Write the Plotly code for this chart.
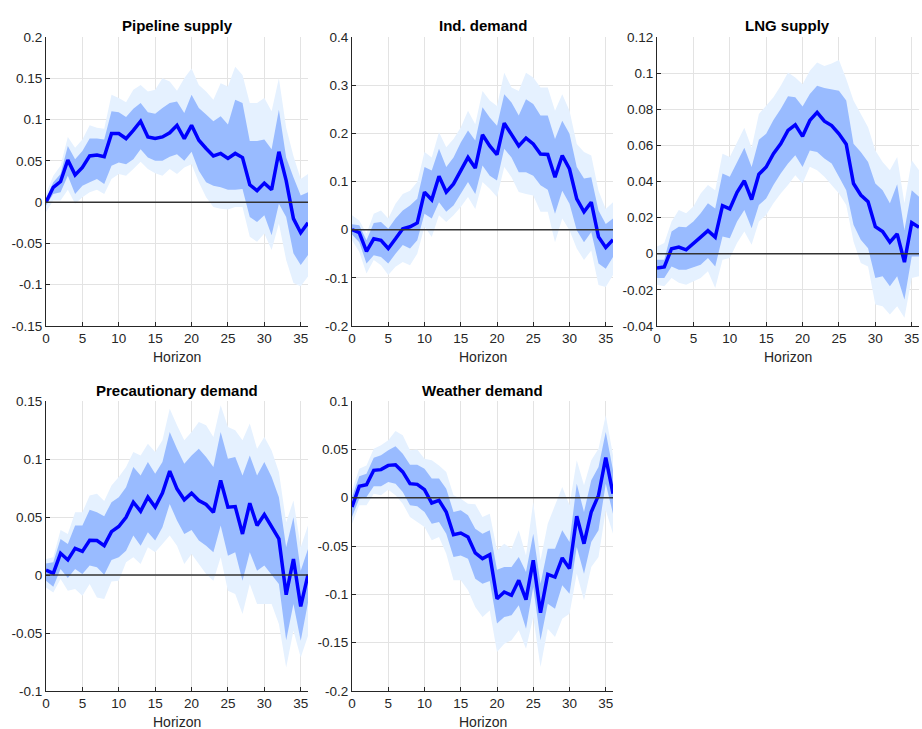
import plotly.graph_objects as go

horizon = list(range(37))

titles = ["Pipeline supply", "Ind. demand", "LNG supply", "Precautionary demand", "Weather demand"]

# ---- Pipeline supply ----
pipe_med = [0.0, 0.018, 0.025, 0.051, 0.033, 0.042, 0.056, 0.057, 0.055, 0.083, 0.083, 0.077, 0.087, 0.098,
            0.079, 0.077, 0.079, 0.084, 0.093, 0.077, 0.093, 0.075, 0.065, 0.056, 0.059, 0.053, 0.059, 0.054,
            0.021, 0.014, 0.023, 0.015, 0.061, 0.026, -0.020, -0.037, -0.025]
pipe_in_hi = [0.004, 0.024, 0.034, 0.068, 0.052, 0.062, 0.077, 0.077, 0.076, 0.110, 0.109, 0.103, 0.113, 0.120,
              0.109, 0.107, 0.114, 0.120, 0.122, 0.108, 0.130, 0.114, 0.106, 0.098, 0.104, 0.094, 0.124, 0.120,
              0.074, 0.074, 0.076, 0.064, 0.112, 0.054, 0.030, 0.008, 0.012]
pipe_in_lo = [-0.004, 0.010, 0.012, 0.032, 0.010, 0.020, 0.024, 0.028, 0.022, 0.044, 0.048, 0.046, 0.052, 0.064,
              0.054, 0.050, 0.050, 0.055, 0.058, 0.050, 0.061, 0.038, 0.024, 0.020, 0.018, 0.015, 0.015, 0.016,
              -0.018, -0.024, -0.016, -0.040, -0.002, -0.018, -0.062, -0.076, -0.064]
pipe_out_hi = [0.010, 0.032, 0.044, 0.079, 0.066, 0.076, 0.093, 0.090, 0.089, 0.130, 0.126, 0.121, 0.136, 0.142,
               0.134, 0.136, 0.150, 0.146, 0.135, 0.150, 0.162, 0.142, 0.134, 0.124, 0.144, 0.140, 0.164, 0.154,
               0.120, 0.120, 0.126, 0.110, 0.150, 0.090, 0.056, 0.028, 0.034]
pipe_out_lo = [-0.012, 0.002, 0.002, 0.015, -0.002, 0.006, 0.012, 0.015, 0.010, 0.028, 0.034, 0.032, 0.040, 0.049,
               0.040, 0.035, 0.032, 0.040, 0.034, 0.042, 0.046, 0.024, 0.006, -0.006, -0.008, -0.009, -0.006, -0.006,
               -0.042, -0.048, -0.038, -0.058, -0.026, -0.070, -0.098, -0.102, -0.090]

# ---- Ind. demand ----
ind_med = [0.0, -0.006, -0.045, -0.019, -0.022, -0.039, -0.019, 0.002, 0.006, 0.014, 0.078, 0.062, 0.111, 0.078,
           0.095, 0.123, 0.150, 0.128, 0.197, 0.174, 0.156, 0.221, 0.199, 0.174, 0.190, 0.178, 0.157, 0.156,
           0.109, 0.154, 0.126, 0.064, 0.037, 0.057, -0.015, -0.037, -0.021]
ind_in_hi = [0.011, 0.009, -0.022, 0.014, 0.016, 0.002, 0.023, 0.040, 0.050, 0.064, 0.130, 0.123, 0.168, 0.130,
             0.150, 0.181, 0.206, 0.185, 0.254, 0.233, 0.216, 0.281, 0.264, 0.237, 0.271, 0.261, 0.237, 0.237,
             0.188, 0.226, 0.199, 0.130, 0.106, 0.109, 0.040, 0.012, 0.023]
ind_in_lo = [-0.010, -0.026, -0.070, -0.053, -0.057, -0.070, -0.050, -0.032, -0.039, -0.022, 0.033, 0.023, 0.057,
             0.037, 0.050, 0.074, 0.099, 0.074, 0.133, 0.112, 0.102, 0.168, 0.150, 0.119, 0.119, 0.112, 0.092,
             0.083, 0.033, 0.081, 0.054, -0.001, -0.026, -0.005, -0.070, -0.081, -0.057]
ind_out_hi = [0.030, 0.019, -0.008, 0.033, 0.040, 0.023, 0.054, 0.074, 0.081, 0.099, 0.161, 0.150, 0.202, 0.171,
              0.188, 0.212, 0.247, 0.219, 0.288, 0.268, 0.257, 0.326, 0.295, 0.288, 0.326, 0.316, 0.295, 0.295,
              0.247, 0.281, 0.247, 0.178, 0.161, 0.154, 0.081, 0.043, 0.057]
ind_out_lo = [-0.022, -0.046, -0.091, -0.063, -0.074, -0.094, -0.077, -0.067, -0.074, -0.050, 0.006, -0.015, 0.030,
              0.016, 0.030, 0.047, 0.068, 0.043, 0.099, 0.085, 0.068, 0.130, 0.109, 0.078, 0.074, 0.071, 0.037,
              0.037, -0.026, 0.023, -0.001, -0.039, -0.063, -0.043, -0.115, -0.119, -0.094]

# ---- LNG supply ----
lng_med = [-0.0079, -0.0073, 0.0028, 0.0037, 0.0022, 0.0055, 0.0092, 0.0128, 0.0092, 0.0266, 0.0248, 0.034, 0.0404,
           0.030, 0.044, 0.048, 0.0554, 0.0609, 0.0683, 0.0714, 0.065, 0.0738, 0.0783, 0.0734, 0.071, 0.0664,
           0.0606, 0.0389, 0.0325, 0.0288, 0.015, 0.0123, 0.0064, 0.011, -0.0046, 0.0172, 0.0147]
lng_in_hi = [-0.0033, -0.0033, 0.0123, 0.015, 0.0147, 0.0178, 0.0224, 0.0279, 0.0251, 0.0444, 0.0426, 0.0508, 0.0587,
             0.048, 0.0631, 0.0664, 0.0741, 0.0802, 0.0872, 0.0866, 0.0815, 0.0884, 0.093, 0.0917, 0.0912, 0.0903,
             0.0848, 0.0609, 0.0563, 0.0508, 0.0389, 0.0352, 0.0279, 0.0385, 0.0132, 0.0352, 0.0316]
lng_in_lo = [-0.0134, -0.0134, -0.007, -0.0088, -0.0088, -0.0073, -0.0061, -0.0024, -0.007, 0.0095, 0.0086, 0.0178,
             0.0242, 0.0141, 0.027, 0.0306, 0.038, 0.0444, 0.0499, 0.0545, 0.048, 0.0572, 0.0563, 0.0527, 0.0499,
             0.0426, 0.0352, 0.016, 0.0077, 0.0031, -0.0134, -0.0125, -0.018, -0.0125, -0.0253, -0.0015, -0.0015]
lng_out_hi = [0.004, 0.0059, 0.0178, 0.0242, 0.0224, 0.0261, 0.0334, 0.038, 0.0352, 0.0554, 0.0536, 0.0618, 0.0697,
              0.0587, 0.0774, 0.082, 0.0866, 0.093, 0.1004, 0.0976, 0.0939, 0.1013, 0.1059, 0.104, 0.1053, 0.1072,
              0.0967, 0.0848, 0.0774, 0.0701, 0.0572, 0.0508, 0.0462, 0.0536, 0.0279, 0.0517, 0.0462]
lng_out_lo = [-0.0171, -0.018, -0.0134, -0.0161, -0.0171, -0.0152, -0.0134, -0.0097, -0.0189, -0.0033, -0.0024,
              0.0059, 0.0123, 0.005, 0.0178, 0.0215, 0.0279, 0.0334, 0.038, 0.0435, 0.0389, 0.0481, 0.0462, 0.0426,
              0.038, 0.0334, 0.027, 0.0068, -0.0051, -0.007, -0.0281, -0.029, -0.0336, -0.029, -0.0354, -0.0134,
              -0.0125]

# ---- Precautionary demand ----
prec_med = [0.0043, 0.0014, 0.0187, 0.013, 0.023, 0.0204, 0.030, 0.0297, 0.0253, 0.0374, 0.0418, 0.0498, 0.0628,
            0.055, 0.0671, 0.0585, 0.0706, 0.0896, 0.0743, 0.0648, 0.0706, 0.0642, 0.0608, 0.0541, 0.0815, 0.0585,
            0.059, 0.0354, 0.0619, 0.0426, 0.0521, 0.0412, 0.0311, -0.017, 0.0138, -0.0271, 0.0003]
prec_in_hi = [0.010, 0.011, 0.031, 0.0268, 0.0426, 0.0426, 0.0562, 0.0541, 0.0507, 0.0628, 0.0671, 0.0757, 0.093,
              0.0858, 0.0974, 0.0873, 0.0974, 0.1233, 0.1089, 0.0959, 0.1031, 0.1089, 0.1017, 0.093, 0.1233, 0.1002,
              0.1017, 0.0858, 0.1031, 0.0858, 0.0974, 0.0844, 0.0671, 0.0239, 0.0498, 0.0037, 0.0225]
prec_in_lo = [-0.0049, -0.0101, 0.0052, -0.0026, 0.0052, 0.0009, 0.0081, 0.0066, 0.0003, 0.013, 0.0153, 0.021, 0.034,
              0.0253, 0.0369, 0.0297, 0.0412, 0.0613, 0.0469, 0.0354, 0.0389, 0.0297, 0.0253, 0.0196, 0.0426, 0.0167,
              0.0196, -0.0049, 0.0196, 0.0037, 0.0081, 0.0003, -0.0078, -0.0562, -0.0251, -0.0567, -0.0236]
prec_out_hi = [0.0138, 0.0153, 0.0389, 0.0354, 0.0541, 0.0541, 0.0685, 0.070, 0.0637, 0.0772, 0.0844, 0.093, 0.106,
               0.1031, 0.1132, 0.106, 0.1161, 0.1434, 0.129, 0.1161, 0.1233, 0.1319, 0.129, 0.119, 0.1463, 0.1276,
               0.1247, 0.1161, 0.1305, 0.1089, 0.119, 0.1074, 0.0887, 0.0455, 0.0642, 0.0239, 0.0426]
prec_out_lo = [-0.0107, -0.015, -0.0035, -0.0135, -0.0121, -0.0179, -0.0078, -0.0193, -0.0207, -0.0055, -0.0049,
               0.011, 0.0153, 0.0095, 0.0239, 0.0196, 0.0268, 0.034, 0.0253, 0.0095, 0.0181, 0.0095, 0.0009, -0.0049,
               0.0153, -0.0135, -0.0164, -0.0337, -0.0078, -0.0251, -0.0251, -0.0251, -0.0423, -0.0798, -0.0481,
               -0.0711, -0.0524]

# ---- Weather demand ----
wea_med = [-0.0097, 0.0117, 0.0134, 0.0283, 0.029, 0.0334, 0.0341, 0.0266, 0.0145, 0.0138, 0.0083, -0.0055, -0.0028,
           -0.0148, -0.0383, -0.0366, -0.0407, -0.0572, -0.0631, -0.059, -0.1045, -0.0976, -0.101, -0.0855, -0.1055,
           -0.0648, -0.119, -0.0793, -0.0821, -0.0624, -0.0734, -0.0193, -0.0476, -0.0148, 0.0024, 0.0414, 0.0041]
wea_in_hi = [0.0007, 0.0221, 0.0248, 0.0414, 0.0438, 0.049, 0.0531, 0.0455, 0.0341, 0.0341, 0.030, 0.0197, 0.0197,
             0.0093, -0.0148, -0.0131, -0.0183, -0.0321, -0.0372, -0.0338, -0.0745, -0.0717, -0.0717, -0.0614,
             -0.0769, -0.0372, -0.089, -0.0528, -0.0528, -0.0338, -0.0459, 0.0145, -0.0148, 0.0179, 0.0317, 0.0679,
             0.0283]
wea_in_lo = [-0.020, -0.001, 0.0007, 0.0117, 0.0117, 0.0162, 0.0145, 0.0059, -0.0079, -0.009, -0.0148, -0.0269,
             -0.0252, -0.0372, -0.0614, -0.0597, -0.0631, -0.0838, -0.089, -0.0862, -0.1303, -0.1234, -0.1217,
             -0.1114, -0.1355, -0.0924, -0.1476, -0.1097, -0.1148, -0.0907, -0.0993, -0.051, -0.0786, -0.0459,
             -0.0338, 0.0145, -0.0166]
wea_out_hi = [0.0076, 0.030, 0.0334, 0.0507, 0.0541, 0.0593, 0.069, 0.0645, 0.049, 0.0497, 0.0403, 0.0386, 0.0334,
              0.0266, 0.0024, -0.001, -0.0062, -0.0069, -0.020, -0.0166, -0.0545, -0.0476, -0.0528, -0.0338, -0.0597,
              -0.0045, -0.0648, -0.0269, -0.0079, 0.011, -0.0079, 0.0386, 0.0128, 0.0386, 0.0507, 0.0852, 0.0438]
wea_out_lo = [-0.0269, -0.0079, -0.0079, 0.0041, 0.0024, 0.0083, 0.0024, -0.0062, -0.020, -0.0252, -0.0303, -0.0441,
              -0.0407, -0.0579, -0.0855, -0.0855, -0.0959, -0.1131, -0.1234, -0.1166, -0.1597, -0.151, -0.1476,
              -0.1372, -0.1562, -0.1234, -0.1752, -0.1355, -0.1441, -0.1252, -0.120, -0.0786, -0.1062, -0.0717,
              -0.0614, -0.0131, -0.0372]

# y tick values and labels per panel
yt_pipe = [-0.15, -0.1, -0.05, 0, 0.05, 0.1, 0.15, 0.2]
yl_pipe = ["-0.15", "-0.1", "-0.05", "0", "0.05", "0.1", "0.15", "0.2"]
yt_ind = [-0.2, -0.1, 0, 0.1, 0.2, 0.3, 0.4]
yl_ind = ["-0.2", "-0.1", "0", "0.1", "0.2", "0.3", "0.4"]
yt_lng = [-0.04, -0.02, 0, 0.02, 0.04, 0.06, 0.08, 0.1, 0.12]
yl_lng = ["-0.04", "-0.02", "0", "0.02", "0.04", "0.06", "0.08", "0.1", "0.12"]
yt_prec = [-0.1, -0.05, 0, 0.05, 0.1, 0.15]
yl_prec = ["-0.1", "-0.05", "0", "0.05", "0.1", "0.15"]
yt_wea = [-0.2, -0.15, -0.1, -0.05, 0, 0.05, 0.1]
yl_wea = ["-0.2", "-0.15", "-0.1", "-0.05", "0", "0.05", "0.1"]

xt = [0, 5, 10, 15, 20, 25, 30, 35]
xl = ["0", "5", "10", "15", "20", "25", "30", "35"]

panels = [
    (pipe_med, pipe_in_lo, pipe_in_hi, pipe_out_lo, pipe_out_hi, yt_pipe, yl_pipe),
    (ind_med, ind_in_lo, ind_in_hi, ind_out_lo, ind_out_hi, yt_ind, yl_ind),
    (lng_med, lng_in_lo, lng_in_hi, lng_out_lo, lng_out_hi, yt_lng, yl_lng),
    (prec_med, prec_in_lo, prec_in_hi, prec_out_lo, prec_out_hi, yt_prec, yl_prec),
    (wea_med, wea_in_lo, wea_in_hi, wea_out_lo, wea_out_hi, yt_wea, yl_wea),
]

W, H = 922, 729
# pixel boxes (left, right, top, bottom)
boxes = [(46, 308, 37, 326), (352, 613, 37, 326), (657, 919, 37, 326),
         (46, 308, 401, 691), (352, 613, 401, 691)]

OUTER = "rgb(229,241,255)"
INNER = "rgb(153,187,255)"
LINE = "rgb(0,0,255)"
AX = "#262626"
FONT = "Liberation Sans, Arial, Helvetica, sans-serif"

fig = go.Figure()
layout = dict(width=W, height=H, margin=dict(l=0, r=0, t=0, b=0, autoexpand=False),
              paper_bgcolor="white", plot_bgcolor="white", showlegend=False, hovermode=False,
              font=dict(family=FONT, size=13, color=AX))
annotations = []
shapes = []

for i, (med, ilo, ihi, olo, ohi, yt, yl) in enumerate(panels):
    n = i + 1
    xa = "x" if n == 1 else f"x{n}"
    ya = "y" if n == 1 else f"y{n}"
    l, r, t, b = boxes[i]
    dom_x = [l / W, r / W]
    dom_y = [1 - b / H, 1 - t / H]
    # outer band
    fig.add_trace(go.Scatter(x=horizon, y=ohi, mode="lines", line=dict(width=0, color=OUTER),
                             xaxis=xa, yaxis=ya, hoverinfo="skip"))
    fig.add_trace(go.Scatter(x=horizon, y=olo, mode="lines", line=dict(width=0, color=OUTER),
                             fill="tonexty", fillcolor=OUTER, xaxis=xa, yaxis=ya, hoverinfo="skip"))
    # inner band
    fig.add_trace(go.Scatter(x=horizon, y=ihi, mode="lines", line=dict(width=0, color=INNER),
                             xaxis=xa, yaxis=ya, hoverinfo="skip"))
    fig.add_trace(go.Scatter(x=horizon, y=ilo, mode="lines", line=dict(width=0, color=INNER),
                             fill="tonexty", fillcolor=INNER, xaxis=xa, yaxis=ya, hoverinfo="skip"))
    # zero line
    shapes.append(dict(type="line", xref=xa, yref=ya, x0=horizon[0], x1=horizon[-1], y0=0, y1=0,
                       line=dict(color="#333333", width=1.5), layer="above"))
    # median
    fig.add_trace(go.Scatter(x=horizon, y=med, mode="lines", line=dict(width=3.5, color=LINE),
                             xaxis=xa, yaxis=ya))

    axkey_x = "xaxis" if n == 1 else f"xaxis{n}"
    axkey_y = "yaxis" if n == 1 else f"yaxis{n}"
    layout[axkey_x] = dict(domain=dom_x, anchor=ya, range=[horizon[0], horizon[-1]], automargin=False,
                           tickvals=xt, ticktext=xl, ticks="inside", ticklen=4, tickcolor=AX,
                           showline=True, linecolor=AX, linewidth=1, showgrid=True,
                           gridcolor="#e3e3e3", gridwidth=1, zeroline=False,
                           tickfont=dict(size=13.5, color=AX, family=FONT), layer="above traces")
    layout[axkey_y] = dict(domain=dom_y, anchor=xa, range=[yt[0], yt[-1]], automargin=False,
                           tickvals=yt, ticktext=yl, ticks="inside", ticklen=4, tickcolor=AX,
                           showline=True, linecolor=AX, linewidth=1, showgrid=True,
                           gridcolor="#e3e3e3", gridwidth=1, zeroline=False,
                           tickfont=dict(size=13.5, color=AX, family=FONT), layer="above traces")
    # title
    annotations.append(dict(text="<b>" + titles[i] + "</b>", xref="paper", yref="paper",
                            x=(dom_x[0] + dom_x[1]) / 2, y=1 - (t - 11) / H, xanchor="center",
                            yanchor="middle", showarrow=False,
                            font=dict(size=15, color="black", family=FONT)))
    # x label
    annotations.append(dict(text="Horizon", xref="paper", yref="paper",
                            x=(dom_x[0] + dom_x[1]) / 2, y=1 - (b + 31) / H, xanchor="center",
                            yanchor="middle", showarrow=False,
                            font=dict(size=14, color=AX, family=FONT)))

layout["annotations"] = annotations
layout["shapes"] = shapes
fig.update_layout(**layout)
fig.write_html("out.html", config={"displayModeBar": False},
               post_script="document.body.style.margin='0';document.body.style.overflow='hidden';")
